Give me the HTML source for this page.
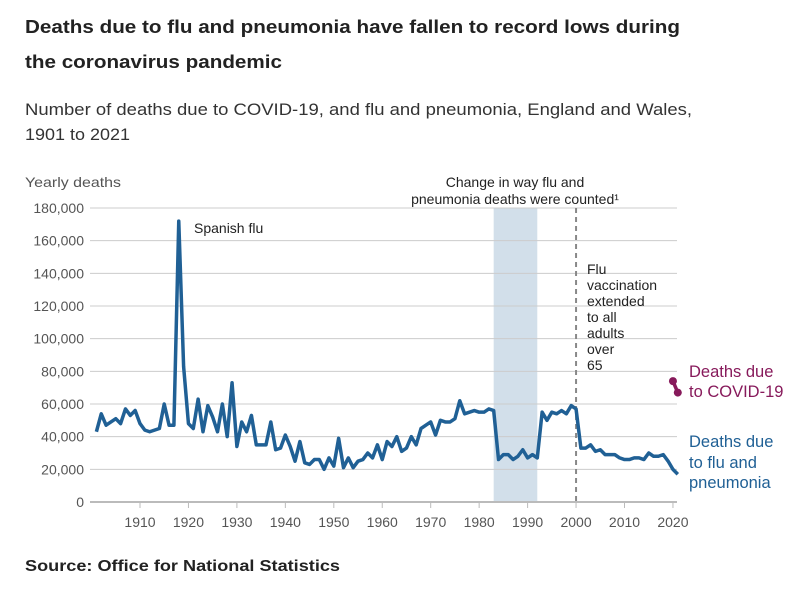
<!DOCTYPE html>
<html><head><meta charset="utf-8"><style>
body{margin:0;background:#fff;font-family:"Liberation Sans",sans-serif;}
svg text{font-family:"Liberation Sans",sans-serif;}
</style></head><body>
<svg width="802" height="587" viewBox="0 0 802 587">
<text x="25" y="33" font-size="18.5" font-weight="bold" fill="#222" textLength="655" lengthAdjust="spacingAndGlyphs">Deaths due to flu and pneumonia have fallen to record lows during</text>
<text x="25" y="68" font-size="18.5" font-weight="bold" fill="#222" textLength="257" lengthAdjust="spacingAndGlyphs">the coronavirus pandemic</text>
<text x="25" y="115" font-size="16.5" fill="#333" textLength="667" lengthAdjust="spacingAndGlyphs">Number of deaths due to COVID-19, and flu and pneumonia, England and Wales,</text>
<text x="25" y="140" font-size="16.5" fill="#333" textLength="105" lengthAdjust="spacingAndGlyphs">1901 to 2021</text>
<text x="25" y="187" font-size="14" fill="#555" textLength="96" lengthAdjust="spacingAndGlyphs">Yearly deaths</text>
<g id="grid"></g>
<g id="marks"></g>
<text x="25" y="571" font-size="15.5" font-weight="bold" fill="#222" textLength="315" lengthAdjust="spacingAndGlyphs">Source: Office for National Statistics</text>
</svg>
<script>
const years=[];for(let y=1901;y<=2021;y++)years.push(y);
const fluValues=[43,54,47,49,51,48,57,53,56,48,44,43,44,45,60,47,47,172,83,48,45,63,43,59,52,43,60,40,73,34,49,43,53,35,35,35,49,32,33,41,34,25,37,24,23,26,26,20,27,22,39,21,27,21,25,26,30,27,35,26,37,34,40,31,33,40,35,45,47,49,41,50,49,49,51,62,54,55,56,55,55,57,56,26,29,29,26,28,32,27,29,27,55,50,55,54,56,54,59,57,33,33,35,31,32,29,29,29,27,26,26,27,27,26,30,28,28,29,25,20,17];
const covidYears=[2020,2021];
const covidValues=[74,67];
const yTicks=[0,20000,40000,60000,80000,100000,120000,140000,160000,180000];
const xTicks=[1910,1920,1930,1940,1950,1960,1970,1980,1990,2000,2010,2020];
const NS="http://www.w3.org/2000/svg";
const X=y=>140+(y-1910)*4.845;
const Y=v=>502-v/180000*294;
function el(t,a,p){const e=document.createElementNS(NS,t);for(const k in a)e.setAttribute(k,a[k]);(p||document.getElementById('marks')).appendChild(e);return e;}
const grid=document.getElementById('grid');
const band=el('rect',{x:X(1983),y:208,width:X(1992)-X(1983),height:294,fill:'#d2dfea'},grid);


yTicks.forEach(v=>{
 const l=el('line',{x1:90,x2:677,y1:Y(v),y2:Y(v),stroke:v===0?'#bbb':'#ccc','stroke-width':v===0?2:1},grid);
 
 
 const t=el('text',{x:84,y:Y(v)+5,'text-anchor':'end','font-size':14,fill:'#555'},grid);
 t.textContent=v.toLocaleString('en-US');
 
 
});
xTicks.forEach(y=>{
 const l=el('line',{x1:X(y),x2:X(y),y1:502,y2:508,stroke:'#bbb'},grid);
 
 
 const t=el('text',{x:X(y),y:527,'text-anchor':'middle','font-size':14,fill:'#555'},grid);
 t.textContent=y;
 
 
});
const dl=el('line',{x1:X(2000),x2:X(2000),y1:208,y2:502,stroke:'#888','stroke-width':2,'stroke-dasharray':'5,4'},grid);


const fl=el('polyline',{points:years.map((y,i)=>X(y)+','+Y(fluValues[i]*1000)).join(' '),fill:'none',stroke:'#206095','stroke-width':3.5,'stroke-linejoin':'round'});


const cl=el('polyline',{points:covidYears.map((y,i)=>X(y)+','+Y(covidValues[i]*1000)).join(' '),fill:'none',stroke:'#871a5b','stroke-width':3.5});


covidYears.forEach((y,i)=>{const c=el('circle',{cx:X(y),cy:Y(covidValues[i]*1000),r:4,fill:'#871a5b'});
 
 });
function txt(x,y,s,name,size,fill,anchor){const t=el('text',{x:x,y:y,'font-size':size||14,fill:fill||'#222','text-anchor':anchor||'start'});t.textContent=s;
 
 }
txt(194,233,'Spanish flu','spanish-flu-label');
txt(515,187,'Change in way flu and','counting-change-label',14,'#222','middle');
txt(515,204,'pneumonia deaths were counted¹','counting-change-label-2',14,'#222','middle');
['Flu','vaccination','extended','to all','adults','over','65'].forEach((s,i)=>txt(587,274+i*16,s,'vaccination-label'));
txt(689,377,'Deaths due','covid-legend',16.5,'#871a5b');
txt(689,397,'to COVID-19','covid-legend-2',16.5,'#871a5b');
txt(689,447,'Deaths due','flu-legend',16.5,'#206095');
txt(689,468,'to flu and','flu-legend-2',16.5,'#206095');
txt(689,488,'pneumonia','flu-legend-3',16.5,'#206095');
</script>
</body></html>
